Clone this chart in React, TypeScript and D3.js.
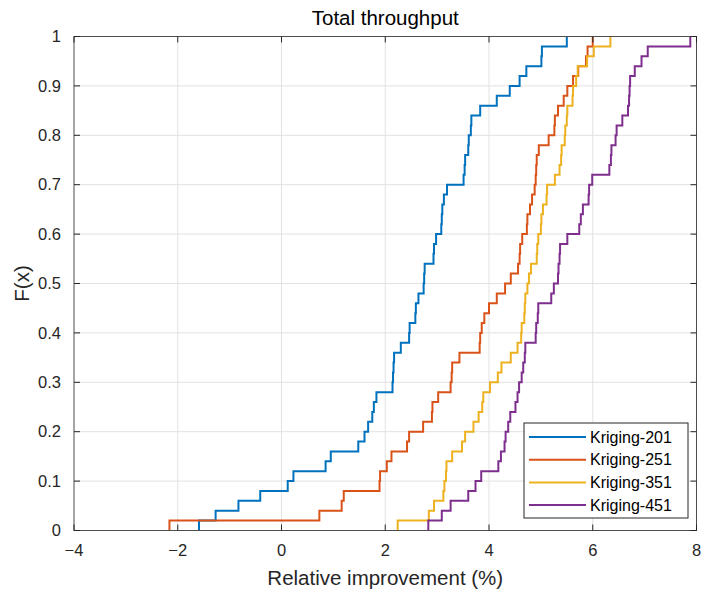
import * as d3 from 'd3';
import React, { useEffect, useRef } from 'react';

// sorted samples, 50 per curve
const kriging201 = [
  -1.59, -1.27, -0.83, -0.41, 0.12, 0.23, 0.85, 0.95, 1.48, 1.60,
  1.67, 1.75, 1.78, 1.83, 2.14, 2.15, 2.16, 2.17, 2.30, 2.46,
  2.47, 2.58, 2.59, 2.64, 2.74, 2.75, 2.76, 2.93, 2.94, 2.98,
  3.08, 3.09, 3.10, 3.13, 3.19, 3.51, 3.53, 3.54, 3.60, 3.61,
  3.65, 3.66, 3.83, 4.15, 4.40, 4.59, 4.72, 5.01, 5.02, 5.50,
];
const kriging251 = [
  -2.16, 0.73, 1.16, 1.20, 1.89, 1.90, 2.03, 2.12, 2.42, 2.46,
  2.73, 2.90, 2.91, 3.02, 3.26, 3.28, 3.29, 3.43, 3.82, 3.83,
  3.86, 3.91, 4.00, 4.15, 4.31, 4.42, 4.56, 4.59, 4.60, 4.64,
  4.73, 4.74, 4.79, 4.83, 4.88, 4.90, 4.91, 4.92, 4.96, 5.15,
  5.26, 5.27, 5.33, 5.44, 5.51, 5.62, 5.72, 5.87, 5.90, 6.00,
];
const kriging351 = [
  2.24, 2.84, 2.94, 3.12, 3.14, 3.17, 3.18, 3.29, 3.48, 3.54,
  3.70, 3.80, 3.87, 3.89, 4.02, 4.17, 4.24, 4.42, 4.55, 4.62,
  4.63, 4.68, 4.69, 4.70, 4.74, 4.77, 4.81, 4.92, 4.93, 4.95,
  5.00, 5.01, 5.04, 5.11, 5.12, 5.27, 5.36, 5.39, 5.40, 5.46,
  5.47, 5.50, 5.51, 5.61, 5.62, 5.68, 5.71, 5.89, 6.02, 6.34,
];
const kriging451 = [
  2.83, 3.09, 3.26, 3.60, 3.74, 3.85, 4.18, 4.23, 4.30, 4.32,
  4.37, 4.41, 4.51, 4.55, 4.58, 4.63, 4.66, 4.69, 4.70, 4.90,
  4.91, 4.94, 4.95, 5.20, 5.25, 5.33, 5.34, 5.36, 5.37, 5.51,
  5.74, 5.77, 5.81, 5.92, 5.93, 5.99, 6.32, 6.35, 6.36, 6.44,
  6.46, 6.57, 6.68, 6.70, 6.71, 6.72, 6.81, 6.94, 7.06, 7.88,
];

const seriesNames = ['Kriging-201', 'Kriging-251', 'Kriging-351', 'Kriging-451'];
const seriesColors = ['#0072BD', '#D95319', '#EDB120', '#7E2F8E'];

const xTicks = [-4, -2, 0, 2, 4, 6, 8];
const yTicks = [0, 0.1, 0.2, 0.3, 0.4, 0.5, 0.6, 0.7, 0.8, 0.9, 1];

const W = 702;
const H = 595;
const margin = { top: 36.5, right: 5.5, bottom: 64.5, left: 74 };
const FONT = '"Liberation Sans", Arial, Helvetica, sans-serif';
const AXIS = '#262626';

function App() {
  const ref = useRef<SVGSVGElement>(null);

  useEffect(() => {
    const svg = d3.select(ref.current);
    svg.selectAll('*').remove();

    const iw = W - margin.left - margin.right;
    const ih = H - margin.top - margin.bottom;

    const x = d3.scaleLinear().domain([-4, 8]).range([0, iw]);
    const y = d3.scaleLinear().domain([0, 1]).range([ih, 0]);

    svg.append('rect').attr('width', W).attr('height', H).attr('fill', 'white');

    const g = svg.append('g').attr('transform', `translate(${margin.left},${margin.top})`);

    // grid
    g.append('g').selectAll('line.gx')
      .data(xTicks.slice(1, -1))
      .enter().append('line')
      .attr('x1', d => x(d)).attr('x2', d => x(d))
      .attr('y1', 0).attr('y2', ih)
      .attr('stroke', '#e2e2e2').attr('stroke-width', 1);
    g.append('g').selectAll('line.gy')
      .data(yTicks.slice(1, -1))
      .enter().append('line')
      .attr('x1', 0).attr('x2', iw)
      .attr('y1', d => y(d)).attr('y2', d => y(d))
      .attr('stroke', '#e2e2e2').attr('stroke-width', 1);

    // ecdf curves
    g.append('clipPath').attr('id', 'plotclip')
      .append('rect').attr('x', -1).attr('y', -1).attr('width', iw + 2).attr('height', ih + 2);

    const line = d3.line<[number, number]>()
      .x(d => x(d[0]))
      .y(d => y(d[1]))
      .curve(d3.curveStepAfter);

    const allSeries = [kriging201, kriging251, kriging351, kriging451];
    allSeries.forEach((vals, k) => {
      const s = vals.slice().sort((a, b) => a - b);
      const n = s.length;
      const pts: [number, number][] = [[s[0], 0]];
      s.forEach((v, i) => pts.push([v, (i + 1) / n]));
      g.append('path')
        .attr('d', line(pts))
        .attr('fill', 'none')
        .attr('stroke', seriesColors[k])
        .attr('stroke-width', 2)
        .attr('clip-path', 'url(#plotclip)');
    });

    // box + ticks
    const tickLen = 6;
    const ax = g.append('g').attr('stroke', AXIS).attr('stroke-width', 1).attr('fill', 'none');
    ax.append('rect').attr('x', 0).attr('y', 0).attr('width', iw).attr('height', ih).attr('stroke', '#4d4d4d');
    xTicks.forEach(t => {
      ax.append('line').attr('x1', x(t)).attr('x2', x(t)).attr('y1', ih).attr('y2', ih - tickLen);
      ax.append('line').attr('x1', x(t)).attr('x2', x(t)).attr('y1', 0).attr('y2', tickLen);
    });
    yTicks.forEach(t => {
      ax.append('line').attr('x1', 0).attr('x2', tickLen).attr('y1', y(t)).attr('y2', y(t));
      ax.append('line').attr('x1', iw).attr('x2', iw - tickLen).attr('y1', y(t)).attr('y2', y(t));
    });

    const fmt = d3.format('');
    g.append('g').selectAll('text')
      .data(xTicks)
      .enter().append('text')
      .attr('x', d => x(d))
      .attr('y', ih + 25)
      .attr('text-anchor', 'middle')
      .style('font-family', FONT).style('font-size', '16.5px').attr('fill', AXIS)
      .text(d => fmt(d));
    g.append('g').selectAll('text')
      .data(yTicks)
      .enter().append('text')
      .attr('x', -13)
      .attr('y', d => y(d))
      .attr('dy', '0.35em')
      .attr('text-anchor', 'end')
      .style('font-family', FONT).style('font-size', '16.5px').attr('fill', AXIS)
      .text(d => fmt(d));

    // labels
    svg.append('text')
      .attr('x', margin.left + iw / 2).attr('y', 25)
      .attr('text-anchor', 'middle')
      .style('font-family', FONT).style('font-size', '20.5px').attr('fill', '#000')
      .text('Total throughput');
    svg.append('text')
      .attr('x', margin.left + iw / 2).attr('y', H - 10)
      .attr('text-anchor', 'middle')
      .style('font-family', FONT).style('font-size', '20.5px').attr('fill', AXIS)
      .text('Relative improvement (%)');
    svg.append('text')
      .attr('transform', `translate(29,${margin.top + ih / 2}) rotate(-90)`)
      .attr('text-anchor', 'middle')
      .style('font-family', FONT).style('font-size', '20.5px').attr('fill', AXIS)
      .text('F(x)');

    // legend
    const lg = svg.append('g').attr('transform', 'translate(524,423)');
    lg.append('rect').attr('width', 164).attr('height', 95)
      .attr('fill', 'white').attr('stroke', AXIS).attr('stroke-width', 1);
    seriesNames.forEach((name, k) => {
      const ly = 14 + k * 22.7;
      lg.append('line').attr('x1', 5).attr('x2', 62).attr('y1', ly).attr('y2', ly)
        .attr('stroke', seriesColors[k]).attr('stroke-width', 2);
      lg.append('text').attr('x', 66).attr('y', ly).attr('dy', '0.35em')
        .style('font-family', FONT).style('font-size', '16px').attr('fill', '#000')
        .text(name);
    });
  }, []);

  return (
    <svg ref={ref} width={W} height={H} style={{ position: 'absolute', left: 0, top: 0 }}></svg>
  );
}

export default App;
